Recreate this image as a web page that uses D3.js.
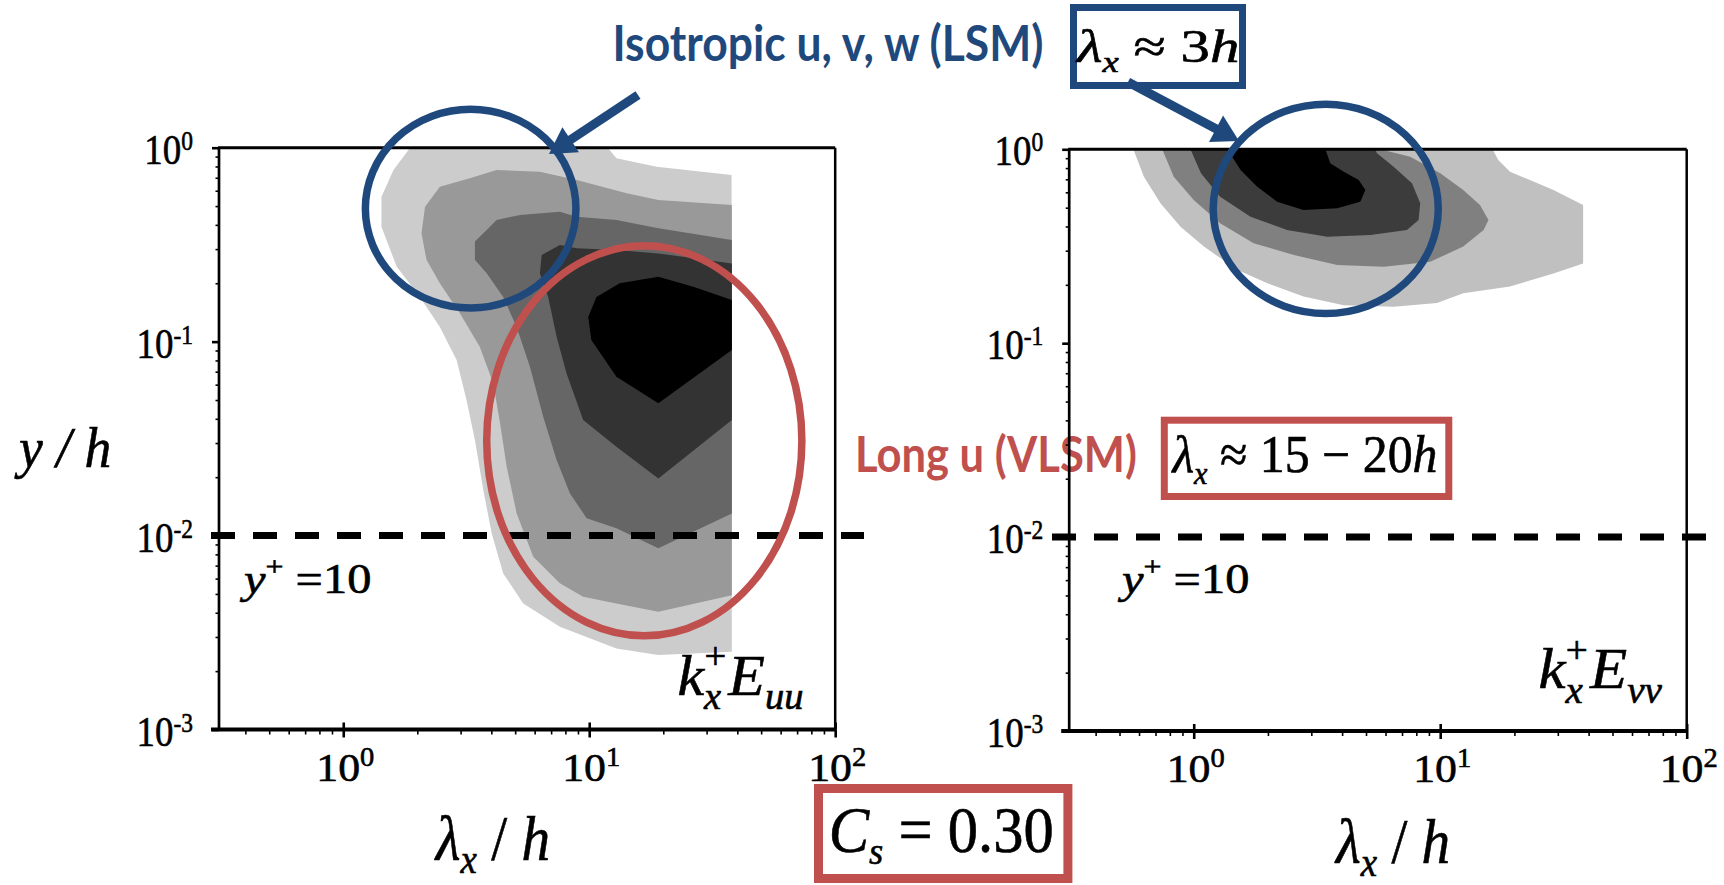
<!DOCTYPE html>
<html>
<head>
<meta charset="utf-8">
<script src="https://cdn.jsdelivr.net/npm/d3@7"></script>
<style>
  html, body { margin: 0; padding: 0; background: #fff; }
  svg { display: block; }
</style>
</head>
<body>
<svg id="chart" width="1724" height="885"></svg>
<script>
// premultiplied spectra k_x^+ E_uu (left) and k_x^+ E_vv (right), Cs = 0.30
// each level is a closed region as [lambda_x/h, y/h]
const uuLevel1 = [[1.87,1],[11.9,1],[12.9,0.882],[18.8,0.798],[37.9,0.723],[38,0.00252],[19.1,0.00242],[12.9,0.00262],
  [7.60,0.00339],[5.39,0.00447],[4.47,0.00638],[4.01,0.0103],[3.71,0.0172],[3.43,0.0311],[3.17,0.050],[2.89,0.0804],
  [2.47,0.119],[2.05,0.170],[1.65,0.243],[1.43,0.391],[1.43,0.559],[1.60,0.767]];
const uuLevel2 = [[4.20,0.767],[3.27,0.695],[2.47,0.629],[2.15,0.496],[2.08,0.362],[2.18,0.264],[2.47,0.200],[2.98,0.140],
  [3.59,0.0941],[4.07,0.0610],[4.34,0.0379],[4.62,0.0226],[5.07,0.0130],[5.92,0.00778],[7.60,0.00567],[9.45,0.00483],
  [12.9,0.00447],[19.1,0.00405],[38,0.00493],[38,0.506],[19.1,0.537],[14.2,0.582],[8.89,0.681],[6.30,0.752]];
const uuLevel3 = [[7.60,0.468],[5.23,0.450],[4.20,0.424],[3.83,0.376],[3.43,0.328],[3.43,0.264],[3.83,0.225],[4.47,0.170],
  [5.07,0.119],[5.74,0.0743],[6.50,0.0410],[7.37,0.0245],[8.35,0.0165],[9.76,0.0123],[12.9,0.0109],[19.1,0.00859],
  [38,0.0130],[38,0.334],[19.1,0.384],[12.9,0.424],[8.89,0.441]];
const uuLevel4 = [[7.60,0.315],[6.41,0.280],[6.30,0.225],[6.81,0.170],[7.37,0.106],[8.09,0.0686],[9.45,0.0394],[12.9,0.0287],
  [19.1,0.0197],[38,0.0394],[38,0.253],[19.1,0.285],[12.9,0.297],[8.89,0.303]];
const uuLevel5 = [[19.1,0.216],[13.3,0.200],[10.7,0.170],[9.91,0.134],[10.2,0.102],[12.9,0.0659],[19.1,0.0481],
  [38,0.0905],[38,0.164],[26.5,0.192]];

const vvLevel1 = [[0.569,1],[0.628,0.722],[0.733,0.527],[0.884,0.399],[1.10,0.315],[1.50,0.239],[1.99,0.204],[2.79,0.174],
  [4.06,0.157],[6.47,0.154],[9.70,0.161],[12.4,0.181],[19.2,0.196],[28.8,0.229],[38,0.258],[38,0.516],[28.8,0.617],
  [19.2,0.766],[17.2,0.881],[16.3,1]];
const vvLevel2 = [[0.745,1],[0.830,0.722],[1.00,0.548],[1.28,0.415],[1.75,0.328],[2.55,0.285],[3.82,0.253],[5.90,0.248],
  [9.11,0.263],[12.4,0.315],[15.0,0.384],[15.7,0.432],[14.5,0.516],[12.4,0.617],[10.0,0.752],[7.56,0.916],[5.71,1]];
const vvLevel3 = [[0.97,1],[1.07,0.752],[1.28,0.570],[1.70,0.449],[2.39,0.384],[3.48,0.354],[5.21,0.361],[7.33,0.384],
  [8.17,0.432],[8.30,0.527],[7.68,0.668],[6.47,0.813],[5.54,0.954],[5.45,1]];
const vvLevel4 = [[1.37,1],[1.55,0.782],[1.81,0.641],[2.18,0.537],[2.79,0.486],[3.82,0.496],[4.74,0.537],[4.97,0.617],
  [4.67,0.695],[4.06,0.766],[3.58,0.847],[3.42,1]];

const uuFills = ['#cccccc', '#999999', '#666666', '#333333', '#000000'];
const vvFills = ['#c0c0c0', '#808080', '#3c3c3c', '#000000'];

const xDomain = [0.3125, 100];
const yDomain = [0.001, 1];
const xMajor = [1, 10, 100];
const yMajor = [0.001, 0.01, 0.1, 1];
const xTickExp = ['0', '1', '2'];
const yTickExp = ['-3', '-2', '-1', '0'];
const yPlus10 = 0.01;   // y+ = 10

// highlighted regions, as [lambda range], [y/h range]
const lsmRingUU = { x: [1.23, 8.83], y: [0.149, 1.58] };
const vlsmRingUU = { x: [3.83, 73.2], y: [0.00304, 0.312] };
const lsmRingVV = { x: [1.20, 9.82], y: [0.1423, 1.708] };

const BLUE = '#1f497d';
const RED = '#c0504d';

const panelBoxes = [
  { x0: 219, x1: 835.2, y0: 147.7, y1: 729.5, dash: [211, 864] },
  { x0: 1069.2, x1: 1686.7, y0: 149.3, y1: 731, dash: [1052, 1724] }
];
const panelLevels = [[uuLevel1, uuLevel2, uuLevel3, uuLevel4, uuLevel5], [vvLevel1, vvLevel2, vvLevel3, vvLevel4]];
const panelFills = [uuFills, vvFills];

const svg = d3.select('#chart');
const SERIF = '"Liberation Serif", "Times New Roman", serif';

// ink height of a digit per px of font size, to size text by the height seen in the figure
const ctx = document.createElement('canvas').getContext('2d');
ctx.font = '100px "Liberation Serif"';
const digitRatio = ctx.measureText('0').actualBoundingBoxAscent / 100 || 0.676;
const fsScale = 0.676 / digitRatio;

function mathText(parent, o) {
  const t = parent.append('text')
    .attr('font-family', o.family || SERIF)
    .attr('fill', o.fill || '#000')
    .attr('text-anchor', o.anchor || 'start')
    .style('white-space', 'pre');
  if (o.weight) t.attr('font-weight', o.weight);
  if (!o.family) t.attr('stroke', '#000').attr('stroke-width', 0.6);  // the scanned figure's glyphs are heavier
  const k = o.family ? 1 : fsScale;
  o.parts.forEach(p => {
    const s = t.append('tspan').text(p.t).attr('font-size', p.fs * k);
    if (p.dx) s.attr('dx', p.dx);
    if (p.dy) s.attr('dy', p.dy);
    if (p.it) s.attr('font-style', 'italic');
  });
  let sx = o.sx || 1;
  if (o.width) sx = o.width / t.node().getBBox().width;
  t.attr('transform', `translate(${o.x},${o.y}) scale(${sx},1)`);
  return t;
}

// red label sits under the right panel's axis
mathText(svg, { x: 855, y: 471.7, width: 282, family: 'Lato, "Open Sans", sans-serif', weight: 700, fill: RED,
  parts: [{ t: 'Long u (VLSM)', fs: 49 }] });

const scales = [];

function drawPanel(i) {
  const b = panelBoxes[i];
  const x = d3.scaleLog().domain(xDomain).range([b.x0, b.x1]);
  const y = d3.scaleLog().domain(yDomain).range([b.y1, b.y0]);
  scales.push({ x, y });
  const g = svg.append('g').attr('class', 'panel');

  svg.append('clipPath').attr('id', 'clip' + i)
    .append('rect').attr('x', b.x0).attr('y', b.y0).attr('width', b.x1 - b.x0).attr('height', b.y1 - b.y0);

  const area = d3.line().x(d => x(d[0])).y(d => y(d[1])).curve(d3.curveLinearClosed);
  g.append('g').attr('clip-path', `url(#clip${i})`)
    .selectAll('path').data(panelLevels[i]).join('path')
    .attr('d', area)
    .attr('fill', (d, k) => panelFills[i][k]);

  // y+ = 10 line
  g.append('line')
    .attr('x1', b.dash[0]).attr('x2', b.dash[1])
    .attr('y1', y(yPlus10)).attr('y2', y(yPlus10))
    .attr('stroke', '#000').attr('stroke-width', 7).attr('stroke-dasharray', '24 18');

  // frame
  const frame = [
    [b.x0, b.y0, b.x0, b.y1, 2.7],
    [b.x0 - 1, b.y0, b.x1, b.y0, 3],
    [b.x1, b.y0, b.x1, b.y1, 2.5],
    [b.x0 - 8, b.y1, b.x1 + 1, b.y1, 4]
  ];
  g.selectAll('line.frame').data(frame).join('line').attr('class', 'frame')
    .attr('x1', d => d[0]).attr('y1', d => d[1]).attr('x2', d => d[2]).attr('y2', d => d[3])
    .attr('stroke', '#000').attr('stroke-width', d => d[4]);

  const noDomain = s => s.select('.domain').remove();
  const yMinor = y.ticks().filter(v => !yMajor.some(m => Math.abs(m - v) < 1e-9));
  const xMinor = x.ticks().filter(v => !xMajor.some(m => Math.abs(m - v) < 1e-9));

  g.append('g').attr('transform', `translate(${b.x0},0)`)
    .call(d3.axisLeft(y).tickValues(yMajor).tickSize(7).tickFormat(() => ''))
    .call(noDomain).selectAll('line').attr('stroke-width', 2.6);
  g.append('g').attr('transform', `translate(${b.x0},0)`)
    .call(d3.axisLeft(y).tickValues(yMinor).tickSize(3.5).tickFormat(() => ''))
    .call(noDomain).selectAll('line').attr('stroke-width', 1.6);
  g.append('g').attr('transform', `translate(0,${b.y1})`)
    .call(d3.axisBottom(x).tickValues(xMajor).tickSize(8).tickFormat(() => ''))
    .call(noDomain).selectAll('line').attr('stroke-width', 2.6);
  g.append('g').attr('transform', `translate(0,${b.y1})`)
    .call(d3.axisTop(x).tickValues(xMajor).tickSize(7).tickFormat(() => ''))
    .call(noDomain).selectAll('line').attr('stroke-width', 2.6);
  g.append('g').attr('transform', `translate(0,${b.y1})`)
    .call(d3.axisBottom(x).tickValues(xMinor).tickSize(5).tickFormat(() => ''))
    .call(noDomain).selectAll('line').attr('stroke-width', 1.6);

  yMajor.forEach((v, k) => mathText(g, {
    x: b.x0 - 26, y: y(v) + 16, anchor: 'end', sx: 0.88,
    parts: [{ t: '10', fs: 41 }, { t: yTickExp[k], fs: 26, dy: -14 }]
  }));
  xMajor.forEach((v, k) => mathText(g, {
    x: x(v) + 2, y: b.y1 + 51, anchor: 'middle', sx: 1.07,
    parts: [{ t: '10', fs: 40 }, { t: xTickExp[k], fs: 26, dy: -15 }]
  }));
}

drawPanel(0);
drawPanel(1);

// rings around the structures
function ring(s, r, color) {
  const x0 = s.x(r.x[0]), x1 = s.x(r.x[1]), y0 = s.y(r.y[1]), y1 = s.y(r.y[0]);
  svg.append('ellipse')
    .attr('cx', (x0 + x1) / 2).attr('cy', (y0 + y1) / 2)
    .attr('rx', (x1 - x0) / 2).attr('ry', (y1 - y0) / 2)
    .attr('fill', 'none').attr('stroke', color).attr('stroke-width', 7.5);
}
ring(scales[0], lsmRingUU, BLUE);
ring(scales[0], vlsmRingUU, RED);
ring(scales[1], lsmRingVV, BLUE);

// arrows from the LSM label
function arrow(from, to, color) {
  const dx = to[0] - from[0], dy = to[1] - from[1];
  const len = Math.hypot(dx, dy), ux = dx / len, uy = dy / len;
  const headLen = 26, half = 15;
  const bx = to[0] - ux * headLen, by = to[1] - uy * headLen;
  svg.append('line').attr('x1', from[0]).attr('y1', from[1]).attr('x2', bx + ux * 2).attr('y2', by + uy * 2)
    .attr('stroke', color).attr('stroke-width', 9);
  svg.append('path')
    .attr('d', `M${to[0]},${to[1]}L${bx - uy * half},${by + ux * half}L${bx + uy * half},${by - ux * half}Z`)
    .attr('fill', color);
}
arrow([638, 95], [549, 154], BLUE);
arrow([1128, 82], [1239, 141], BLUE);

// boxes
const boxes = [
  { x: 1073.5, y: 7.5, w: 169, h: 78, c: BLUE, sw: 7 },
  { x: 1164.3, y: 420.2, w: 284.5, h: 76.3, c: RED, sw: 7 },
  { x: 818.5, y: 788.5, w: 249.4, h: 90, c: RED, sw: 9 }
];
svg.selectAll('rect.box').data(boxes).join('rect').attr('class', 'box')
  .attr('x', d => d.x).attr('y', d => d.y).attr('width', d => d.w).attr('height', d => d.h)
  .attr('fill', 'none').attr('stroke', d => d.c).attr('stroke-width', d => d.sw);

// labels
mathText(svg, { x: 612.5, y: 61, width: 431, family: 'Lato, "Open Sans", sans-serif', weight: 700, fill: BLUE,
  parts: [{ t: 'Isotropic u, v, w (LSM)', fs: 50 }] });
mathText(svg, { x: 1077, y: 61.7, width: 165,
  parts: [{ t: 'λ', fs: 45, it: true }, { t: 'x', fs: 28, it: true, dy: 10 }, { t: ' ≈ 3', fs: 45, dy: -10 }, { t: 'h', fs: 45, it: true }] });
mathText(svg, { x: 1172.4, y: 471.7, width: 267,
  parts: [{ t: 'λ', fs: 51, it: true }, { t: 'x', fs: 31, it: true, dy: 12 }, { t: ' ≈ 15 − 20', fs: 51, dy: -12 }, { t: 'h', fs: 51, it: true }] });
mathText(svg, { x: 828.7, y: 851.7, width: 225,
  parts: [{ t: 'C', fs: 63, it: true }, { t: 's', fs: 38, it: true, dy: 12 }, { t: ' = 0.30', fs: 63, dy: -12 }] });

mathText(svg, { x: 19, y: 466.7, width: 97, parts: [{ t: 'y / h', fs: 56, it: true }] });
[[435.8, 860], [1336, 863.3]].forEach(p => mathText(svg, { x: p[0], y: p[1], width: 116,
  parts: [{ t: 'λ', fs: 62, it: true }, { t: 'x', fs: 40, it: true, dy: 13 }, { t: ' / ', fs: 62, dy: -13 }, { t: 'h', fs: 62, it: true }] }));

[[244, 593.3], [1122, 593.3]].forEach(p => mathText(svg, { x: p[0], y: p[1], width: 132,
  parts: [{ t: 'y', fs: 41, it: true }, { t: '+', fs: 27, dy: -17 }, { t: ' =10', fs: 41, dy: 17 }] }));

mathText(svg, { x: 677.4, y: 695, width: 126,
  parts: [{ t: 'k', fs: 56, it: true }, { t: 'x', fs: 36, it: true, dy: 14 }, { t: '+', fs: 36, dx: -16, dy: -40 },
          { t: 'E', fs: 56, it: true, dx: 2, dy: 26 }, { t: 'uu', fs: 36, it: true, dy: 14 }] });
mathText(svg, { x: 1538.5, y: 688.3, width: 124,
  parts: [{ t: 'k', fs: 56, it: true }, { t: 'x', fs: 36, it: true, dy: 15 }, { t: '+', fs: 36, dx: -16, dy: -40 },
          { t: 'E', fs: 56, it: true, dx: 2, dy: 25 }, { t: 'vv', fs: 36, it: true, dy: 15 }] });
</script>
</body>
</html>
